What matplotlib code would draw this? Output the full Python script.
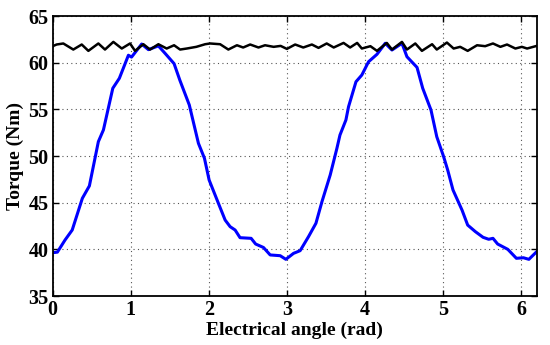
import matplotlib
matplotlib.use("Agg")
import matplotlib.pyplot as plt
import numpy as np

# Blue curve: torque (Nm) vs electrical angle (rad)
blue_x = [0.0, 0.06, 0.158, 0.25, 0.38, 0.47, 0.585, 0.65, 0.77, 0.854, 0.97, 1.01,
          1.14, 1.226, 1.354, 1.44, 1.555, 1.63, 1.75, 1.867, 1.944, 2.004, 2.123,
          2.209, 2.273, 2.337, 2.40, 2.542, 2.60, 2.70, 2.786, 2.914, 2.987, 3.085,
          3.17, 3.277, 3.372, 3.449, 3.555, 3.64, 3.68, 3.756, 3.79, 3.885, 3.96,
          4.046, 4.154, 4.26, 4.346, 4.474, 4.538, 4.667, 4.74, 4.846, 4.92, 5.008,
          5.06, 5.128, 5.244, 5.316, 5.414, 5.513, 5.585, 5.64, 5.70, 5.83, 5.94,
          6.03, 6.10, 6.2]
blue_y = [39.64, 39.7, 41.0, 42.07, 45.47, 46.8, 51.54, 52.8, 57.26, 58.33, 60.8, 60.6,
          62.0, 61.4, 61.8, 61.0, 59.9, 58.1, 55.47, 51.36, 49.76, 47.43, 44.93,
          43.14, 42.43, 42.07, 41.25, 41.18, 40.57, 40.2, 39.4, 39.32, 38.93, 39.57,
          39.86, 41.36, 42.79, 45.1, 47.97, 50.8, 52.25, 53.86, 55.29, 57.96, 58.68,
          60.1, 60.9, 62.08, 61.36, 62.08, 60.64, 59.5, 57.26, 54.93, 52.07, 49.93,
          48.5, 46.36, 44.2, 42.6, 41.9, 41.29, 41.08, 41.18, 40.57, 40.0, 39.04,
          39.1, 38.93, 39.75]

# Black curve: nearly flat torque with small ripple
black_x = [0.0, 0.05, 0.136, 0.264, 0.372, 0.457, 0.585, 0.67, 0.777, 0.885, 0.991,
           1.055, 1.162, 1.247, 1.354, 1.46, 1.555, 1.632, 1.718, 1.84, 1.953, 2.017,
           2.145, 2.25, 2.36, 2.44, 2.53, 2.636, 2.72, 2.83, 2.92, 3.0, 3.106, 3.21,
           3.32, 3.405, 3.51, 3.6, 3.726, 3.81, 3.9, 3.96, 4.07, 4.154, 4.28, 4.346,
           4.474, 4.538, 4.645, 4.73, 4.86, 4.92, 5.05, 5.136, 5.22, 5.316, 5.436,
           5.54, 5.64, 5.735, 5.82, 5.927, 6.01, 6.077, 6.2]
black_y = [61.77, 61.95, 62.06, 61.41, 61.95, 61.27, 62.06, 61.41, 62.23, 61.52, 62.06,
           61.27, 61.98, 61.41, 61.98, 61.52, 61.87, 61.41, 61.52, 61.7, 61.98, 62.06,
           61.98, 61.41, 61.87, 61.63, 61.95, 61.63, 61.87, 61.7, 61.8, 61.48, 61.95,
           61.63, 61.95, 61.59, 62.06, 61.63, 62.12, 61.63, 62.12, 61.52, 61.77, 61.27,
           62.12, 61.41, 62.23, 61.41, 62.06, 61.27, 61.98, 61.41, 62.16, 61.52, 61.7,
           61.27, 61.87, 61.77, 62.06, 61.7, 61.95, 61.52, 61.7, 61.52, 61.8]

x_ticks = [0, 1, 2, 3, 4, 5, 6]
y_ticks = [35, 40, 45, 50, 55, 60, 65]

plt.rcParams["font.family"] = ["Liberation Serif", "DejaVu Serif"]
plt.rcParams["font.weight"] = "bold"

fig = plt.figure(figsize=(5.5, 3.45), dpi=100)
ax = fig.add_axes([0.0958, 0.142, 0.88, 0.8115])

ax.plot(blue_x, blue_y, color="#0000ff", linewidth=2.2)
ax.plot(black_x, black_y, color="black", linewidth=1.8)

ax.set_xlim(0, 6.2)
ax.set_ylim(35, 65)
ax.set_xticks(x_ticks)
ax.set_yticks(y_ticks)
ax.grid(True, linestyle=(0, (1, 3)), color="#555555", linewidth=0.8)
ax.tick_params(direction="in", top=True, right=True, labelsize=14.5, width=1, length=4)
ax.tick_params(axis="x", pad=3)
ax.tick_params(axis="y", pad=3)
for s in ax.spines.values():
    s.set_linewidth(1.3)
for lbl in ax.get_xticklabels() + ax.get_yticklabels():
    lbl.set_fontweight("bold")

ax.set_xlabel("Electrical angle (rad)", fontsize=14, fontweight="bold", labelpad=1)
ax.set_ylabel("Torque (Nm)", fontsize=14, fontweight="bold", labelpad=3)

fig.savefig("out.png", dpi=100)
plt.close(fig)
